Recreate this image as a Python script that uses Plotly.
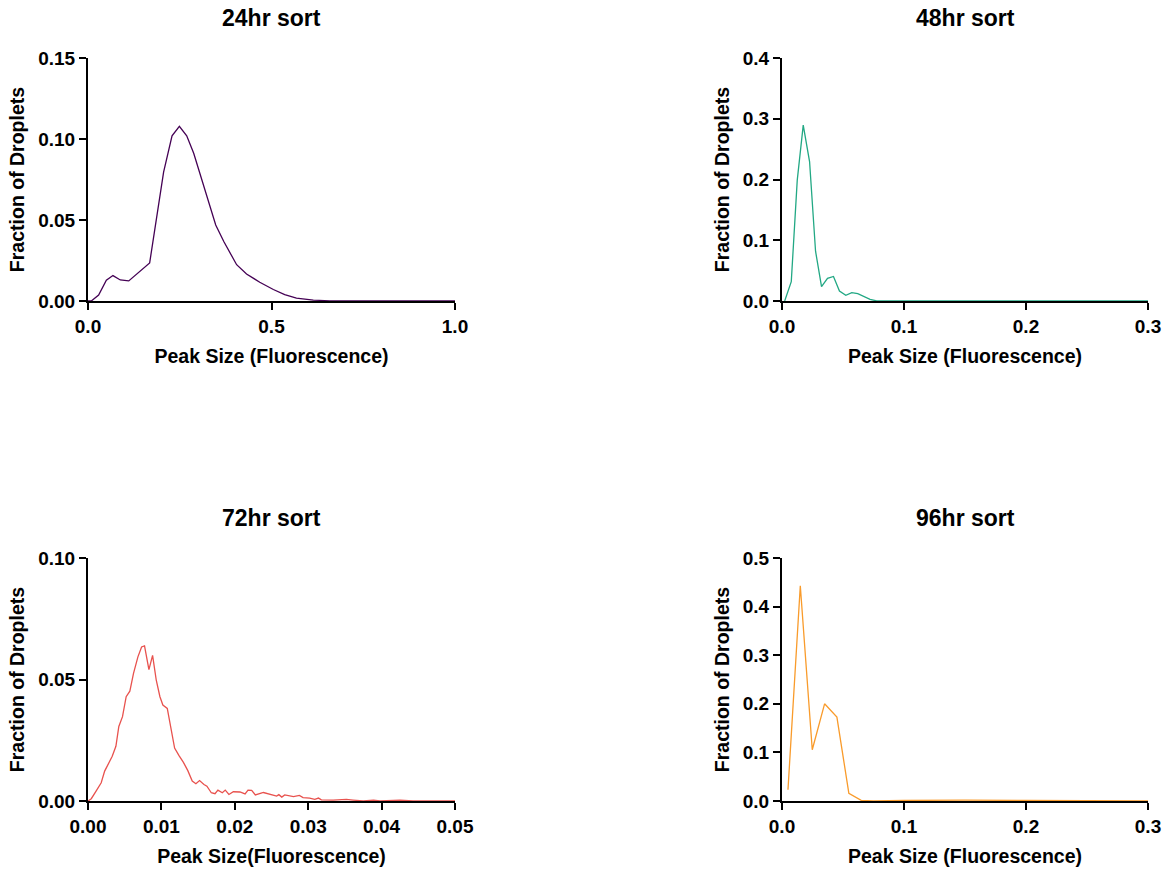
import plotly.graph_objects as go

# ---- Data ----
x24 = [0.0, 0.009, 0.029, 0.05, 0.068, 0.088, 0.111, 0.168, 0.206, 0.229, 0.249, 0.269, 0.288,
       0.309, 0.327, 0.348, 0.37, 0.405, 0.432, 0.468, 0.505, 0.536, 0.568, 0.614, 0.659, 0.75, 1.0]
y24 = [0.0, 0.0, 0.0037, 0.0129, 0.0157, 0.013, 0.0124, 0.0235, 0.0796, 0.102, 0.1078, 0.102, 0.0912,
       0.0755, 0.0622, 0.0469, 0.0367, 0.0224, 0.0167, 0.0116, 0.0071, 0.0039, 0.0018, 0.0006, 0.0001, 0.0, 0.0]

x48 = [0.0022, 0.0076, 0.0125, 0.0174, 0.0226, 0.0275, 0.0324, 0.0373, 0.0422, 0.0471, 0.0523,
       0.0572, 0.0621, 0.0673, 0.0722, 0.0777, 0.15, 0.3]
y48 = [0.0, 0.0317, 0.199, 0.2896, 0.2295, 0.082, 0.0235, 0.0372, 0.0404, 0.0164, 0.0093,
       0.0137, 0.012, 0.0071, 0.0027, 0.0, 0.0, 0.0]

x72 = [0.0, 0.00045, 0.0011, 0.0018, 0.00227, 0.0029, 0.0033, 0.0038, 0.0042, 0.0047, 0.0052, 0.0057,
       0.0062, 0.0068, 0.0073, 0.0077, 0.0083, 0.0088, 0.0093, 0.0098, 0.0102, 0.0108, 0.0113, 0.0118,
       0.0124, 0.013, 0.0136, 0.0142, 0.0147, 0.0152, 0.0158, 0.0162, 0.0168, 0.0173, 0.0177, 0.0183,
       0.0187, 0.0192, 0.0198, 0.0207, 0.0214, 0.0218, 0.0223, 0.0228, 0.0239, 0.0248, 0.0257, 0.026,
       0.0264, 0.0268, 0.028, 0.0288, 0.0293, 0.0302, 0.0309, 0.0314, 0.0318, 0.0334, 0.0352, 0.0361,
       0.0375, 0.0389, 0.0398, 0.0425, 0.0443, 0.05]
y72 = [0.0, 0.00095, 0.0041, 0.0075, 0.0123, 0.0157, 0.0184, 0.0225, 0.0307, 0.0347, 0.0429, 0.0452,
       0.0525, 0.0593, 0.0634, 0.0638, 0.0541, 0.0599, 0.0497, 0.0429, 0.0395, 0.0381, 0.0293, 0.0218,
       0.0187, 0.0159, 0.0125, 0.0082, 0.0071, 0.0084, 0.0068, 0.0061, 0.0034, 0.003, 0.0045, 0.0034,
       0.0045, 0.0027, 0.0038, 0.0037, 0.0029, 0.0045, 0.0044, 0.0025, 0.0035, 0.0026, 0.002, 0.0026,
       0.0016, 0.0025, 0.0018, 0.0023, 0.0014, 0.0012, 0.0007, 0.0012, 0.0005, 0.0004, 0.0007, 0.0004,
       0.0, 0.0003, 0.0, 0.0003, 0.0, 0.0]

x96 = [0.0049, 0.015, 0.0248, 0.0349, 0.045, 0.0548, 0.0649, 0.075, 0.1, 0.15, 0.2, 0.3]
y96 = [0.0233, 0.443, 0.1055, 0.2, 0.1726, 0.0158, 0.0014, 0.0, 0.001, 0.002, 0.001, 0.0]

titles = ["24hr sort", "48hr sort", "72hr sort", "96hr sort"]
xtitles = ["Peak Size (Fluorescence)", "Peak Size (Fluorescence)",
           "Peak Size(Fluorescence)", "Peak Size (Fluorescence)"]
ytitle = "Fraction of Droplets"
colors = ["#440154", "#22a884", "#e8524e", "#f99b2b"]

xranges = [[0, 1.0], [0, 0.3], [0, 0.05], [0, 0.3]]
yranges = [[0, 0.15], [0, 0.4], [0, 0.10], [0, 0.5]]
xticks = [[0.0, 0.5, 1.0], [0.0, 0.1, 0.2, 0.3], [0.0, 0.01, 0.02, 0.03, 0.04, 0.05], [0.0, 0.1, 0.2, 0.3]]
xticklabels = [["0.0", "0.5", "1.0"], ["0.0", "0.1", "0.2", "0.3"],
               ["0.00", "0.01", "0.02", "0.03", "0.04", "0.05"], ["0.0", "0.1", "0.2", "0.3"]]
yticks = [[0, 0.05, 0.10, 0.15], [0, 0.1, 0.2, 0.3, 0.4], [0, 0.05, 0.10], [0, 0.1, 0.2, 0.3, 0.4, 0.5]]
yticklabels = [["0.00", "0.05", "0.10", "0.15"], ["0.0", "0.1", "0.2", "0.3", "0.4"],
               ["0.00", "0.05", "0.10"], ["0.0", "0.1", "0.2", "0.3", "0.4", "0.5"]]

W, H = 1167, 869
# pixel boxes in page coordinates: (left, right, top, bottom)
boxes = [(88, 455, 58, 301), (782, 1148, 58, 301), (88, 455, 558, 801), (782, 1148, 558, 801)]

fig = go.Figure()
series = [(x24, y24), (x48, y48), (x72, y72), (x96, y96)]
FONT = "Liberation Sans, Arial, sans-serif"

for i, ((xs, ys), box) in enumerate(zip(series, boxes)):
    n = "" if i == 0 else str(i + 1)
    fig.add_trace(go.Scatter(x=xs, y=ys, mode="lines", line=dict(color=colors[i], width=1.3),
                             xaxis="x" + n, yaxis="y" + n, showlegend=False))
    l, r, t, b = box
    common = dict(showline=True, linecolor="black", linewidth=2, ticks="outside", ticklen=7,
                  tickwidth=2, tickcolor="black", showgrid=False, zeroline=False,
                  layer="below traces", automargin=False, ticklabeloverflow="allow",
                  tickfont=dict(family=FONT, size=19, color="black", weight="bold"))
    fig.layout["xaxis" + n] = dict(common, domain=[l / W, r / W], range=xranges[i],
                                   anchor="y" + n, tickvals=xticks[i], ticktext=xticklabels[i],
                                   title=dict(text=xtitles[i], standoff=14,
                                              font=dict(family=FONT, size=19.5, color="black", weight="bold")))
    fig.layout["yaxis" + n] = dict(common, domain=[1 - b / H, 1 - t / H], range=yranges[i],
                                   anchor="x" + n, tickvals=yticks[i], ticktext=yticklabels[i],
                                   title=dict(text=ytitle, standoff=8,
                                              font=dict(family=FONT, size=19.5, color="black", weight="bold")))
    fig.add_annotation(text=titles[i], x=(l + r) / 2 / W, y=1 - (18 if i < 2 else 518) / H,
                       xref="paper", yref="paper",
                       showarrow=False, xanchor="center", yanchor="middle",
                       font=dict(family=FONT, size=23, color="black", weight="bold"))

fig.update_layout(width=W, height=H, margin=dict(l=0, r=0, t=0, b=0),
                  plot_bgcolor="white", paper_bgcolor="white", hovermode=False)
fig.write_html("out.html", config={"displayModeBar": False},
               post_script="document.body.style.margin='0';document.body.style.overflow='hidden';")
